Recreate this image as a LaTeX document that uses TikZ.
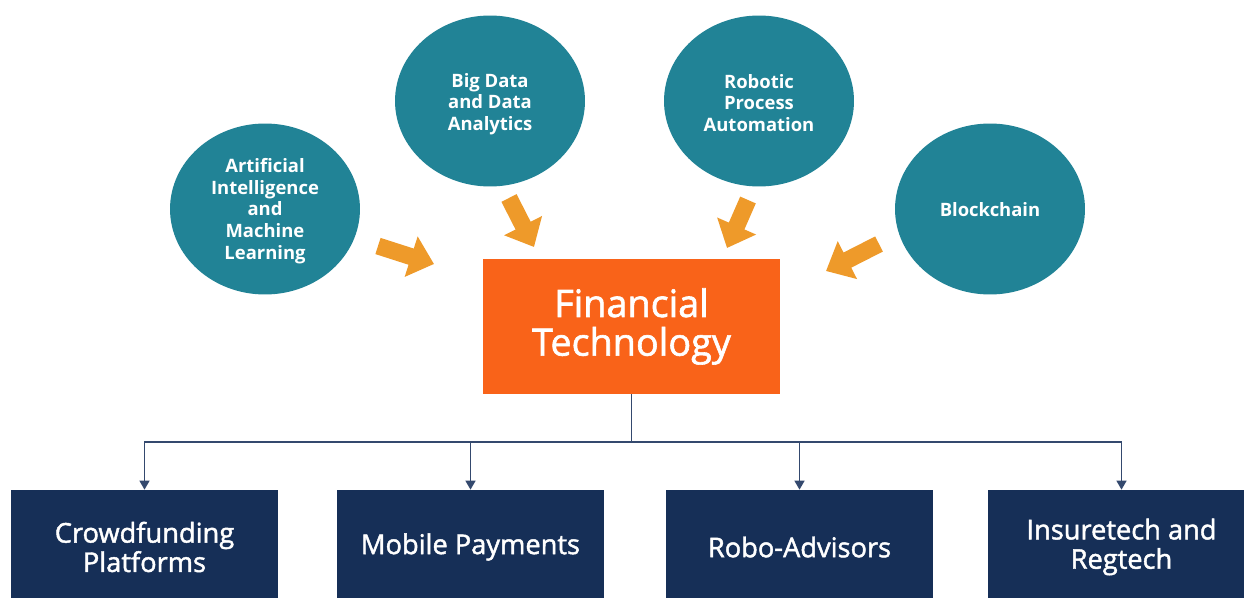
\documentclass[tikz,border=0pt]{standalone}
\usepackage{fontspec}
\setmainfont{Open Sans}
\newfontfamily\osSemi{Open Sans}[FakeBold=1.6]
\usetikzlibrary{shapes.geometric,arrows.meta}
\definecolor{tealc}{HTML}{218396}
\definecolor{orbox}{HTML}{F96319}
\definecolor{orarr}{HTML}{EE9A2A}
\definecolor{navy}{HTML}{162F57}
\definecolor{connc}{HTML}{34496E}
\tikzset{
  bubble/.style={ellipse, fill=tealc, text=white, minimum width=3.8cm, minimum height=3.42cm, inner sep=0pt, align=center, font=\fontsize{10.5}{12.3}\selectfont\bfseries},
  mainbox/.style={rectangle, fill=orbox, text=white, minimum width=5.94cm, minimum height=2.7cm, align=center, font=\osSemi\fontsize{21.5}{22}\selectfont},
  leafbox/.style={rectangle, fill=navy, text=white, minimum width=5.34cm, minimum height=2.28cm, align=center, font=\osSemi\fontsize{15.5}{16.7}\selectfont},
  bubtext/.style={text=white, align=center, inner sep=0pt, font=\fontsize{10.5}{12.3}\selectfont\bfseries},
  fatarrow/.style={draw=orarr, line width=0.34cm, -{Triangle[width=0.82cm,length=0.48cm]}},
  conn/.style={draw=connc, line width=0.8pt},
  connarrow/.style={conn, -{Triangle[width=0.2cm,length=0.18cm]}}
}
\begin{document}
\begin{tikzpicture}[x=0.02cm, y=-0.02cm]
\useasboundingbox (0,0) rectangle (1244,598);
\clip (0,0) rectangle (1244,598);
\fill[white] (0,0) rectangle (1244,598);
% circles
\node[bubble] (ai) at (265,209) {};
\node[bubtext] (ait) at (265,211) {Artificial\\Intelligence\\and\\Machine\\Learning};
\node[bubble] (bd) at (490,101) {};
\node[bubtext] (bdt) at (490,104) {Big Data\\and Data\\Analytics};
\node[bubble] (rpa) at (759,101) {};
\node[bubtext] (rpat) at (759,103) {Robotic\\Process\\Automation};
\node[bubble] (bc) at (990,209) {};
\node[bubtext] (bct) at (990,210) {Blockchain};
% central box
\node[mainbox] (fin) at (631.5,326.5) {Financial\\Technology};
% leaf boxes
\node[leafbox] (b1) at (144.5,547) {Crowdfunding\\Platforms};
\node[leafbox] (b2) at (470.5,547) {Mobile Payments};
\node[leafbox] (b3) at (799.5,547) {Robo-Advisors};
\node[leafbox] (b4) at (1121.5,547) {Insuretech and\\Regtech};
% fat arrows
\coordinate (a1s) at (378,246); \coordinate (a1e) at (434,264);
\coordinate (a2s) at (509,198); \coordinate (a2e) at (534,247);
\coordinate (a3s) at (748,200); \coordinate (a3e) at (727,248);
\coordinate (a4s) at (879,244); \coordinate (a4e) at (826,271);
\draw[fatarrow] (a1s) -- (a1e);
\draw[fatarrow] (a2s) -- (a2e);
\draw[fatarrow] (a3s) -- (a3e);
\draw[fatarrow] (a4s) -- (a4e);
% connectors
\coordinate (bus) at (631.5,442);
\draw[conn] (fin.south) -- (bus);
\draw[connarrow] (bus) -| (b1.north);
\draw[connarrow] (bus) -| (b2.north);
\draw[connarrow] (bus) -| (b3.north);
\draw[connarrow] (bus) -| (b4.north);
\end{tikzpicture}
\end{document}
